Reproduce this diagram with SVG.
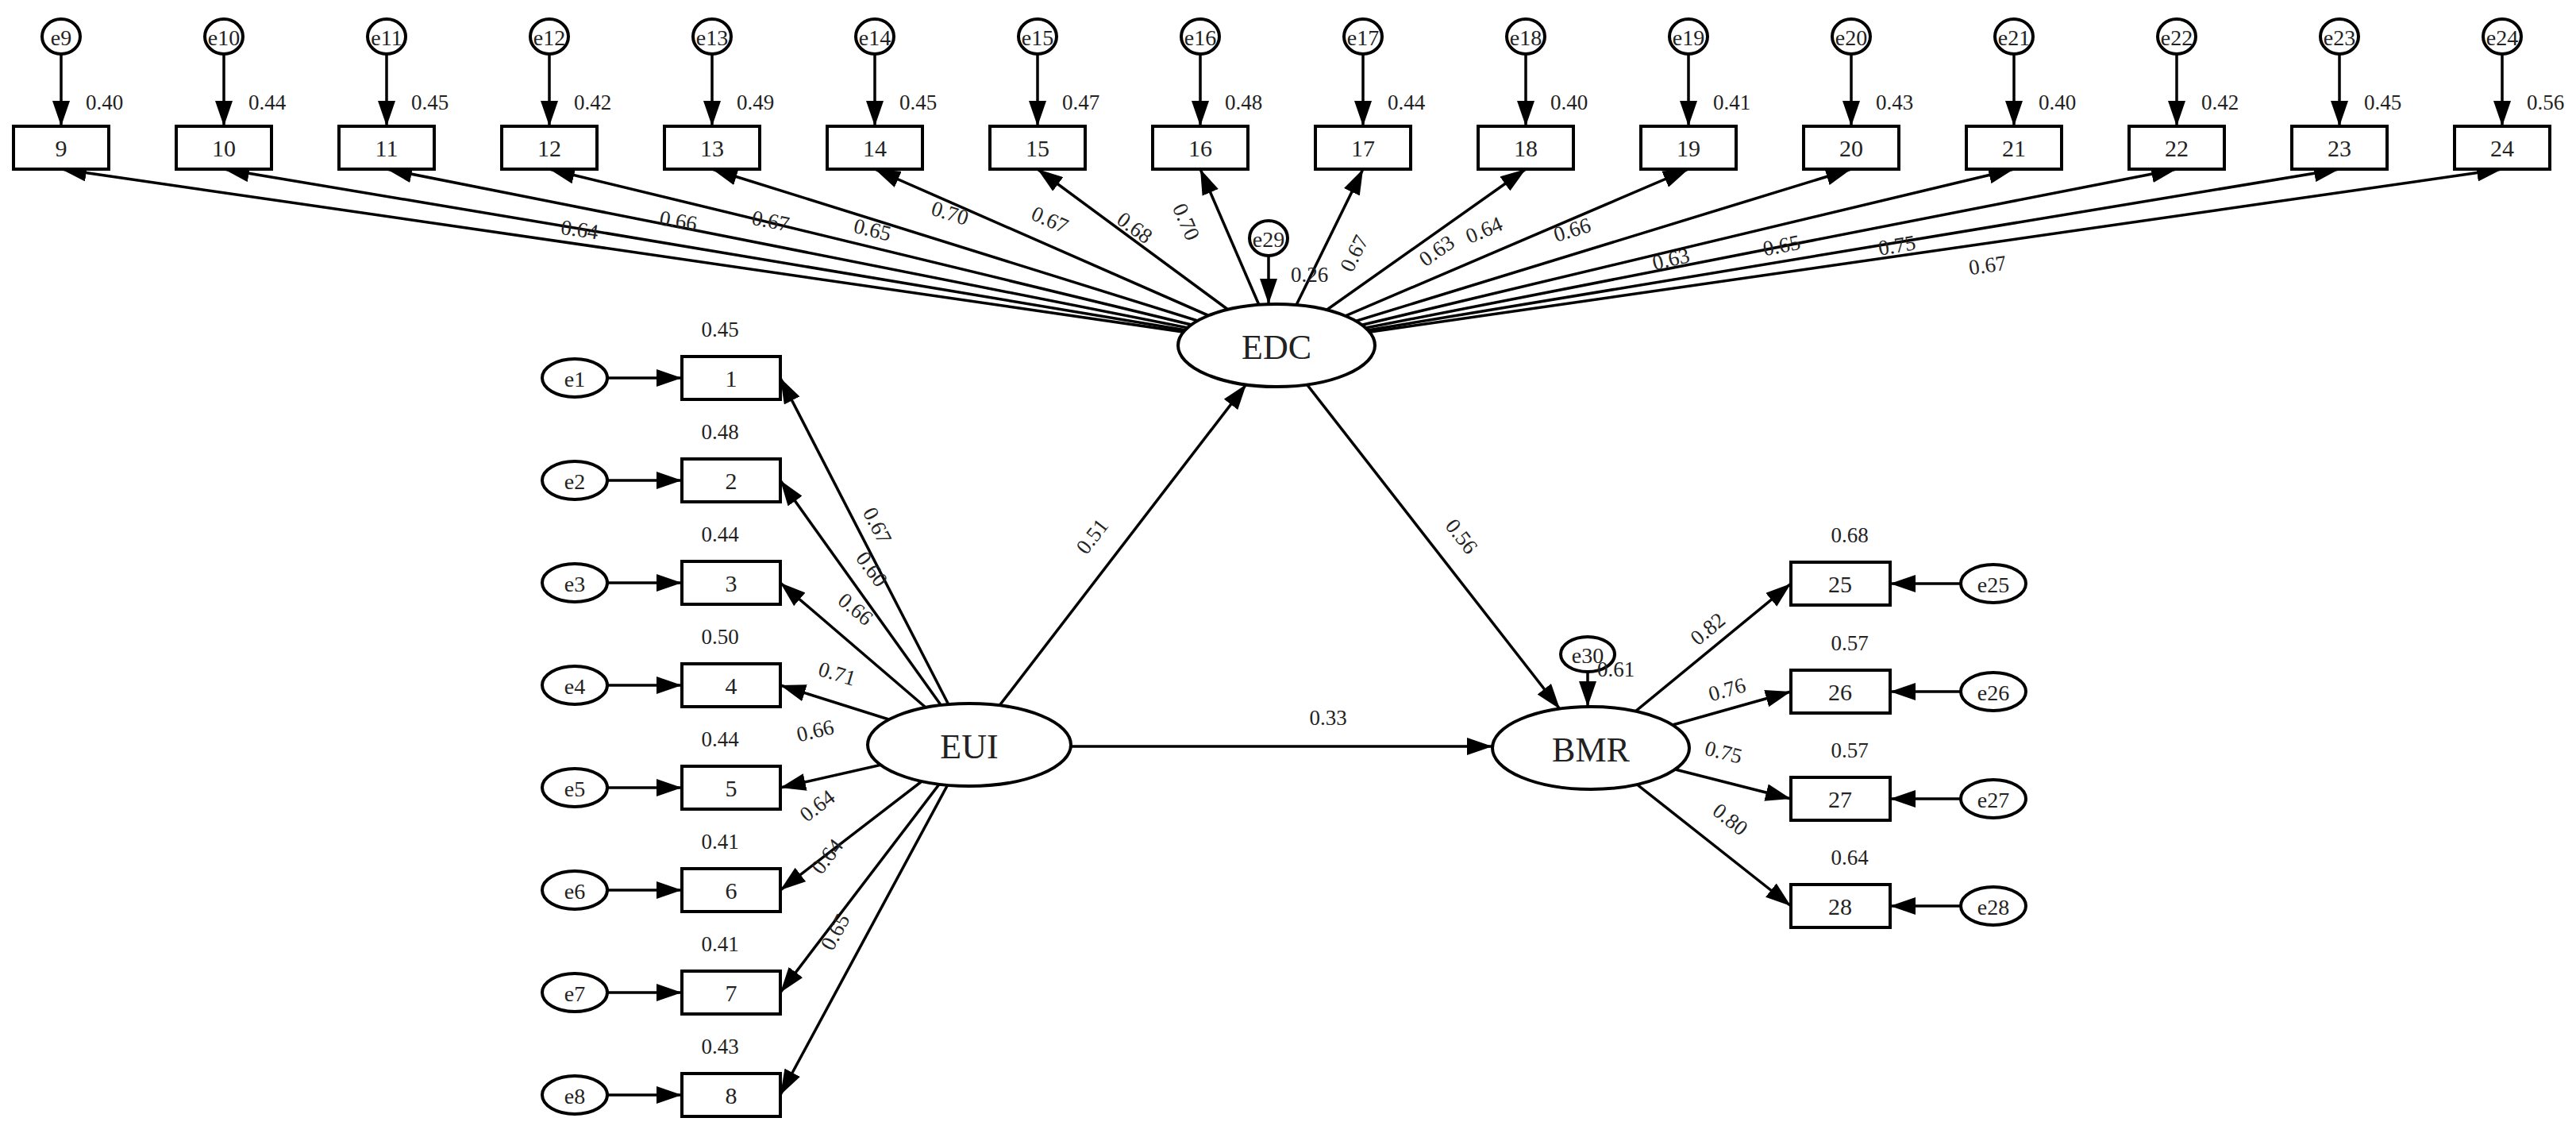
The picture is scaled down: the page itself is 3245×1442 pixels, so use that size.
<svg xmlns="http://www.w3.org/2000/svg" width="3245" height="1442" viewBox="0 0 3245 1442">
<style>
.n{fill:#fff;stroke:#000;stroke-width:4}
.c line{stroke:#000;stroke-width:3.5}
text{font-family:"Liberation Serif","Times New Roman",serif;fill:#222}
.bx{font-size:30px;text-anchor:middle;dominant-baseline:central}
.lv{font-size:44px;text-anchor:middle;dominant-baseline:central}
.er{font-size:28px;text-anchor:middle;dominant-baseline:central}
.v{font-size:27px;fill:#444}
.m{text-anchor:middle}
</style>
<defs>
<marker id="a" markerUnits="userSpaceOnUse" markerWidth="32" markerHeight="22" refX="32" refY="11" orient="auto"><path d="M0,0L32,11L0,22z" fill="#000"/></marker>
</defs>
<g class="c" marker-end="url(#a)">
<!-- EDC loadings -->
<line x1="1608" y1="435" x2="77" y2="213"/><line x1="1608" y1="435" x2="282" y2="213"/><line x1="1608" y1="435" x2="487" y2="213"/><line x1="1608" y1="435" x2="692" y2="213"/>
<line x1="1608" y1="435" x2="897" y2="213"/><line x1="1608" y1="435" x2="1102" y2="213"/><line x1="1608" y1="435" x2="1307" y2="213"/><line x1="1608" y1="435" x2="1512" y2="213"/>
<line x1="1608" y1="435" x2="1717" y2="213"/><line x1="1608" y1="435" x2="1922" y2="213"/><line x1="1608" y1="435" x2="2127" y2="213"/><line x1="1608" y1="435" x2="2332" y2="213"/>
<line x1="1608" y1="435" x2="2537" y2="213"/><line x1="1608" y1="435" x2="2742" y2="213"/><line x1="1608" y1="435" x2="2947" y2="213"/><line x1="1608" y1="435" x2="3152" y2="213"/>
<!-- top errors -->
<line x1="77" y1="68" x2="77" y2="159"/><line x1="282" y1="68" x2="282" y2="159"/><line x1="487" y1="68" x2="487" y2="159"/><line x1="692" y1="68" x2="692" y2="159"/>
<line x1="897" y1="68" x2="897" y2="159"/><line x1="1102" y1="68" x2="1102" y2="159"/><line x1="1307" y1="68" x2="1307" y2="159"/><line x1="1512" y1="68" x2="1512" y2="159"/>
<line x1="1717" y1="68" x2="1717" y2="159"/><line x1="1922" y1="68" x2="1922" y2="159"/><line x1="2127" y1="68" x2="2127" y2="159"/><line x1="2332" y1="68" x2="2332" y2="159"/>
<line x1="2537" y1="68" x2="2537" y2="159"/><line x1="2742" y1="68" x2="2742" y2="159"/><line x1="2947" y1="68" x2="2947" y2="159"/><line x1="3152" y1="68" x2="3152" y2="159"/>
<!-- EUI loadings -->
<line x1="1221" y1="938" x2="983" y2="476"/><line x1="1221" y1="938" x2="983" y2="605"/><line x1="1221" y1="938" x2="983" y2="734"/><line x1="1221" y1="938" x2="983" y2="863"/>
<line x1="1221" y1="938" x2="983" y2="992"/><line x1="1221" y1="938" x2="983" y2="1121"/><line x1="1221" y1="938" x2="983" y2="1250"/><line x1="1221" y1="938" x2="983" y2="1379"/>
<!-- left errors -->
<line x1="765" y1="476" x2="859" y2="476"/><line x1="765" y1="605" x2="859" y2="605"/><line x1="765" y1="734" x2="859" y2="734"/><line x1="765" y1="863" x2="859" y2="863"/>
<line x1="765" y1="992" x2="859" y2="992"/><line x1="765" y1="1121" x2="859" y2="1121"/><line x1="765" y1="1250" x2="859" y2="1250"/><line x1="765" y1="1379" x2="859" y2="1379"/>
<!-- structural -->
<line x1="1221" y1="938" x2="1570" y2="484"/>
<line x1="1221" y1="940" x2="1880" y2="940"/>
<line x1="1608" y1="435" x2="1965" y2="893"/>
<line x1="1598" y1="321" x2="1598" y2="383"/>
<line x1="2000" y1="846" x2="2000" y2="890"/>
<!-- BMR loadings -->
<line x1="2004" y1="942" x2="2256" y2="735"/><line x1="2004" y1="942" x2="2256" y2="871"/><line x1="2004" y1="942" x2="2256" y2="1006"/><line x1="2004" y1="942" x2="2256" y2="1141"/>
<line x1="2470" y1="735" x2="2381" y2="735"/><line x1="2470" y1="871" x2="2381" y2="871"/><line x1="2470" y1="1006" x2="2381" y2="1006"/><line x1="2470" y1="1141" x2="2381" y2="1141"/>
</g>
<!-- latent -->
<g id="EDC"><ellipse class="n" cx="1608" cy="435" rx="124" ry="52"/><text class="lv" x="1608" y="437">EDC</text></g>
<g id="EUI"><ellipse class="n" cx="1221" cy="938" rx="128" ry="52"/><text class="lv" x="1221" y="940">EUI</text></g>
<g id="BMR"><ellipse class="n" cx="2004" cy="942" rx="124" ry="52"/><text class="lv" x="2004" y="944">BMR</text></g>
<g id="e29"><ellipse class="n" cx="1598" cy="300" rx="24" ry="22"/><text class="er" x="1598" y="301">e29</text></g>
<g id="e30"><ellipse class="n" cx="2000" cy="824" rx="34" ry="22"/><text class="er" x="2000" y="825">e30</text></g>
<!-- top items -->
<g id="n9"><rect class="n" x="17" y="159" width="120" height="54"/><text class="bx" x="77" y="186">9</text><ellipse class="n" cx="77" cy="46" rx="24" ry="22"/><text class="er" x="77" y="47">e9</text></g>
<g id="n10"><rect class="n" x="222" y="159" width="120" height="54"/><text class="bx" x="282" y="186">10</text><ellipse class="n" cx="282" cy="46" rx="24" ry="22"/><text class="er" x="282" y="47">e10</text></g>
<g id="n11"><rect class="n" x="427" y="159" width="120" height="54"/><text class="bx" x="487" y="186">11</text><ellipse class="n" cx="487" cy="46" rx="24" ry="22"/><text class="er" x="487" y="47">e11</text></g>
<g id="n12"><rect class="n" x="632" y="159" width="120" height="54"/><text class="bx" x="692" y="186">12</text><ellipse class="n" cx="692" cy="46" rx="24" ry="22"/><text class="er" x="692" y="47">e12</text></g>
<g id="n13"><rect class="n" x="837" y="159" width="120" height="54"/><text class="bx" x="897" y="186">13</text><ellipse class="n" cx="897" cy="46" rx="24" ry="22"/><text class="er" x="897" y="47">e13</text></g>
<g id="n14"><rect class="n" x="1042" y="159" width="120" height="54"/><text class="bx" x="1102" y="186">14</text><ellipse class="n" cx="1102" cy="46" rx="24" ry="22"/><text class="er" x="1102" y="47">e14</text></g>
<g id="n15"><rect class="n" x="1247" y="159" width="120" height="54"/><text class="bx" x="1307" y="186">15</text><ellipse class="n" cx="1307" cy="46" rx="24" ry="22"/><text class="er" x="1307" y="47">e15</text></g>
<g id="n16"><rect class="n" x="1452" y="159" width="120" height="54"/><text class="bx" x="1512" y="186">16</text><ellipse class="n" cx="1512" cy="46" rx="24" ry="22"/><text class="er" x="1512" y="47">e16</text></g>
<g id="n17"><rect class="n" x="1657" y="159" width="120" height="54"/><text class="bx" x="1717" y="186">17</text><ellipse class="n" cx="1717" cy="46" rx="24" ry="22"/><text class="er" x="1717" y="47">e17</text></g>
<g id="n18"><rect class="n" x="1862" y="159" width="120" height="54"/><text class="bx" x="1922" y="186">18</text><ellipse class="n" cx="1922" cy="46" rx="24" ry="22"/><text class="er" x="1922" y="47">e18</text></g>
<g id="n19"><rect class="n" x="2067" y="159" width="120" height="54"/><text class="bx" x="2127" y="186">19</text><ellipse class="n" cx="2127" cy="46" rx="24" ry="22"/><text class="er" x="2127" y="47">e19</text></g>
<g id="n20"><rect class="n" x="2272" y="159" width="120" height="54"/><text class="bx" x="2332" y="186">20</text><ellipse class="n" cx="2332" cy="46" rx="24" ry="22"/><text class="er" x="2332" y="47">e20</text></g>
<g id="n21"><rect class="n" x="2477" y="159" width="120" height="54"/><text class="bx" x="2537" y="186">21</text><ellipse class="n" cx="2537" cy="46" rx="24" ry="22"/><text class="er" x="2537" y="47">e21</text></g>
<g id="n22"><rect class="n" x="2682" y="159" width="120" height="54"/><text class="bx" x="2742" y="186">22</text><ellipse class="n" cx="2742" cy="46" rx="24" ry="22"/><text class="er" x="2742" y="47">e22</text></g>
<g id="n23"><rect class="n" x="2887" y="159" width="120" height="54"/><text class="bx" x="2947" y="186">23</text><ellipse class="n" cx="2947" cy="46" rx="24" ry="22"/><text class="er" x="2947" y="47">e23</text></g>
<g id="n24"><rect class="n" x="3092" y="159" width="120" height="54"/><text class="bx" x="3152" y="186">24</text><ellipse class="n" cx="3152" cy="46" rx="24" ry="22"/><text class="er" x="3152" y="47">e24</text></g>
<!-- left items -->
<g id="n1"><rect class="n" x="859" y="449" width="124" height="54"/><text class="bx" x="921" y="476">1</text><ellipse class="n" cx="724" cy="476" rx="41" ry="24"/><text class="er" x="724" y="477">e1</text></g>
<g id="n2"><rect class="n" x="859" y="578" width="124" height="54"/><text class="bx" x="921" y="605">2</text><ellipse class="n" cx="724" cy="605" rx="41" ry="24"/><text class="er" x="724" y="606">e2</text></g>
<g id="n3"><rect class="n" x="859" y="707" width="124" height="54"/><text class="bx" x="921" y="734">3</text><ellipse class="n" cx="724" cy="734" rx="41" ry="24"/><text class="er" x="724" y="735">e3</text></g>
<g id="n4"><rect class="n" x="859" y="836" width="124" height="54"/><text class="bx" x="921" y="863">4</text><ellipse class="n" cx="724" cy="863" rx="41" ry="24"/><text class="er" x="724" y="864">e4</text></g>
<g id="n5"><rect class="n" x="859" y="965" width="124" height="54"/><text class="bx" x="921" y="992">5</text><ellipse class="n" cx="724" cy="992" rx="41" ry="24"/><text class="er" x="724" y="993">e5</text></g>
<g id="n6"><rect class="n" x="859" y="1094" width="124" height="54"/><text class="bx" x="921" y="1121">6</text><ellipse class="n" cx="724" cy="1121" rx="41" ry="24"/><text class="er" x="724" y="1122">e6</text></g>
<g id="n7"><rect class="n" x="859" y="1223" width="124" height="54"/><text class="bx" x="921" y="1250">7</text><ellipse class="n" cx="724" cy="1250" rx="41" ry="24"/><text class="er" x="724" y="1251">e7</text></g>
<g id="n8"><rect class="n" x="859" y="1352" width="124" height="54"/><text class="bx" x="921" y="1379">8</text><ellipse class="n" cx="724" cy="1379" rx="41" ry="24"/><text class="er" x="724" y="1380">e8</text></g>
<!-- right items -->
<g id="n25"><rect class="n" x="2256" y="708" width="125" height="54"/><text class="bx" x="2318" y="735">25</text><ellipse class="n" cx="2511" cy="735" rx="41" ry="24"/><text class="er" x="2511" y="736">e25</text></g>
<g id="n26"><rect class="n" x="2256" y="844" width="125" height="54"/><text class="bx" x="2318" y="871">26</text><ellipse class="n" cx="2511" cy="871" rx="41" ry="24"/><text class="er" x="2511" y="872">e26</text></g>
<g id="n27"><rect class="n" x="2256" y="979" width="125" height="54"/><text class="bx" x="2318" y="1006">27</text><ellipse class="n" cx="2511" cy="1006" rx="41" ry="24"/><text class="er" x="2511" y="1007">e27</text></g>
<g id="n28"><rect class="n" x="2256" y="1114" width="125" height="54"/><text class="bx" x="2318" y="1141">28</text><ellipse class="n" cx="2511" cy="1141" rx="41" ry="24"/><text class="er" x="2511" y="1142">e28</text></g>
<!-- values -->
<g class="v">
<text x="108" y="138">0.40</text><text x="313" y="138">0.44</text><text x="518" y="138">0.45</text><text x="723" y="138">0.42</text>
<text x="928" y="138">0.49</text><text x="1133" y="138">0.45</text><text x="1338" y="138">0.47</text><text x="1543" y="138">0.48</text>
<text x="1748" y="138">0.44</text><text x="1953" y="138">0.40</text><text x="2158" y="138">0.41</text><text x="2363" y="138">0.43</text>
<text x="2568" y="138">0.40</text><text x="2773" y="138">0.42</text><text x="2978" y="138">0.45</text><text x="3183" y="138">0.56</text>
<text x="1626" y="355">0.26</text><text x="2012" y="852">0.61</text>
<g class="m">
<text x="907" y="424">0.45</text><text x="907" y="553">0.48</text><text x="907" y="682">0.44</text><text x="907" y="811">0.50</text>
<text x="907" y="940">0.44</text><text x="907" y="1069">0.41</text><text x="907" y="1198">0.41</text><text x="907" y="1327">0.43</text>
<text x="2330" y="683">0.68</text><text x="2330" y="819">0.57</text><text x="2330" y="954">0.57</text><text x="2330" y="1089">0.64</text>
<text transform="translate(729,298) rotate(8.2)">0.64</text>
<text transform="translate(853,287) rotate(9.5)">0.66</text>
<text transform="translate(969,287) rotate(11.2)">0.67</text>
<text transform="translate(1097,298) rotate(13.6)">0.65</text>
<text transform="translate(1194,277) rotate(17.3)">0.70</text>
<text transform="translate(1319,285) rotate(23.7)">0.67</text>
<text transform="translate(1424,294) rotate(36.4)">0.68</text>
<text transform="translate(1486,283) rotate(66.6)">0.70</text>
<text transform="translate(1714,323) rotate(-63.9)">0.67</text>
<text transform="translate(1815,323) rotate(-35.3)">0.63</text>
<text transform="translate(1873,298) rotate(-23.2)">0.64</text>
<text transform="translate(1983,298) rotate(-17)">0.66</text>
<text transform="translate(2107,335) rotate(-13.4)">0.63</text>
<text transform="translate(2246,318) rotate(-11.1)">0.65</text>
<text transform="translate(2391,318) rotate(-9.4)">0.75</text>
<text transform="translate(2505,343) rotate(-8.2)">0.67</text>
<text transform="translate(1097,666) rotate(62.7)">0.67</text>
<text transform="translate(1091,722) rotate(53.8)">0.60</text>
<text transform="translate(1072,774) rotate(39.6)">0.66</text>
<text transform="translate(1052,857) rotate(16.6)">0.71</text>
<text transform="translate(1029,929) rotate(-13.2)">0.66</text>
<text transform="translate(1035,1022) rotate(-37.4)">0.64</text>
<text transform="translate(1049,1084) rotate(-52.7)">0.64</text>
<text transform="translate(1060,1178) rotate(-61.6)">0.65</text>
<text transform="translate(1383,681) rotate(-52.4)">0.51</text>
<text transform="translate(1834,681) rotate(52)">0.56</text>
<text x="1673" y="913">0.33</text>
<text transform="translate(2157,799) rotate(-39.4)">0.82</text>
<text transform="translate(2178,877) rotate(-15.7)">0.76</text>
<text transform="translate(2169,956) rotate(14.3)">0.75</text>
<text transform="translate(2174,1039) rotate(38.3)">0.80</text>
</g>
</g>
</svg>
